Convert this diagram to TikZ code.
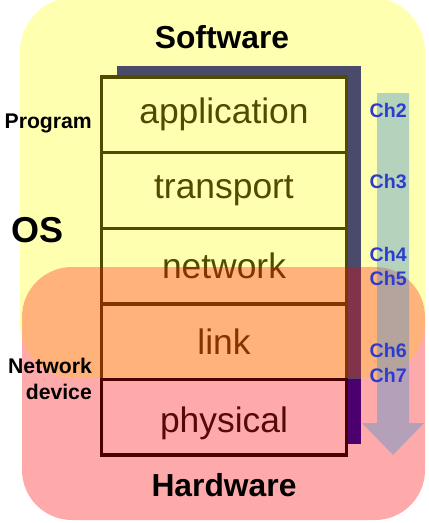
\documentclass[tikz,border=0pt]{standalone}
\usepackage{fontspec}
\setmainfont{Liberation Sans}
\definecolor{yellowbg}{RGB}{255,255,176}
\definecolor{pinkbg}{RGB}{255,170,170}
\definecolor{olive}{RGB}{80,75,0}
\definecolor{shadowc}{RGB}{74,74,106}
\definecolor{purplec}{RGB}{75,0,110}
\definecolor{maroonc}{RGB}{75,0,0}
\definecolor{maroontext}{RGB}{85,10,10}
\definecolor{arrowc}{RGB}{73,146,207}
\definecolor{chblue}{RGB}{45,60,205}
\tikzset{
  layerbox/.style={draw=olive, fill=yellowbg, line width=3.4pt, minimum width=244.6pt, minimum height=75.6pt, inner sep=0pt, text=olive, font=\fontsize{35.4}{40}\selectfont},
  chlabel/.style={anchor=base west, inner sep=0pt, text=chblue, font=\bfseries\fontsize{19.6}{22}\selectfont},
  sidelabel/.style={inner sep=0pt, font=\bfseries\fontsize{21.2}{26}\selectfont},
  titlelabel/.style={anchor=base, inner sep=0pt, font=\bfseries\fontsize{31.8}{36}\selectfont}
}
\begin{document}
\begin{tikzpicture}[x=1pt,y=-1pt]
\useasboundingbox (0,0) rectangle (429,523);
% backgrounds
\fill[pinkbg, rounded corners=50] (22,267) rectangle (425,520);
\fill[yellowbg, rounded corners=55] (20,-3) rectangle (425,378);
% shadow
\fill[shadowc] (117,66) rectangle (361,379);
\fill[purplec] (117,379) rectangle (361,444);
% layers
\node[layerbox] (app) at (224,114.8) {application};
\node[layerbox] (trans) at (224,190.4) {transport};
\node[layerbox] (net) at (224,266) {network};
\node[layerbox] (link) at (224,341.6) {link};
% red overlay on yellow/pink overlap
\begin{scope}
\clip[rounded corners=55] (20,-3) rectangle (425,378);
\fill[red, opacity=0.3, rounded corners=50] (22,267) rectangle (425,520);
\end{scope}
\node[layerbox, draw=maroonc, fill=pinkbg, text=maroontext] (phys) at (224,417.2) {\raisebox{0pt}[\dimexpr\height+12pt\relax]{physical}};
% arrow
\fill[arrowc, opacity=0.41] (377,93) -- (409,93) -- (409,423) -- (424,423) -- (393,455) -- (362,423) -- (377,423) -- cycle;
% chapter labels
\node[chlabel] (ch2) at (369.5,117) {Ch2};
\node[chlabel] (ch3) at (369.5,188) {Ch3};
\node[chlabel] (ch4) at (369.5,261) {Ch4};
\node[chlabel] (ch5) at (369.5,285) {Ch5};
\node[chlabel] (ch6) at (369.5,357) {Ch6};
\node[chlabel] (ch7) at (369.5,382) {Ch7};
% side labels
\node[sidelabel, anchor=base east] (prog) at (92,128) {Program};
\node[sidelabel, anchor=base west, font=\bfseries\fontsize{36}{40}\selectfont] (os) at (11.5,242) {OS};
\node[sidelabel, anchor=base east] (netdev1) at (92,373) {Network};
\node[sidelabel, anchor=base east] (netdev2) at (92,399) {device};
% titles
\node[titlelabel] (sw) at (222,48) {Software};
\node[titlelabel] (hw) at (224,496) {Hardware};
\end{tikzpicture}
\end{document}
